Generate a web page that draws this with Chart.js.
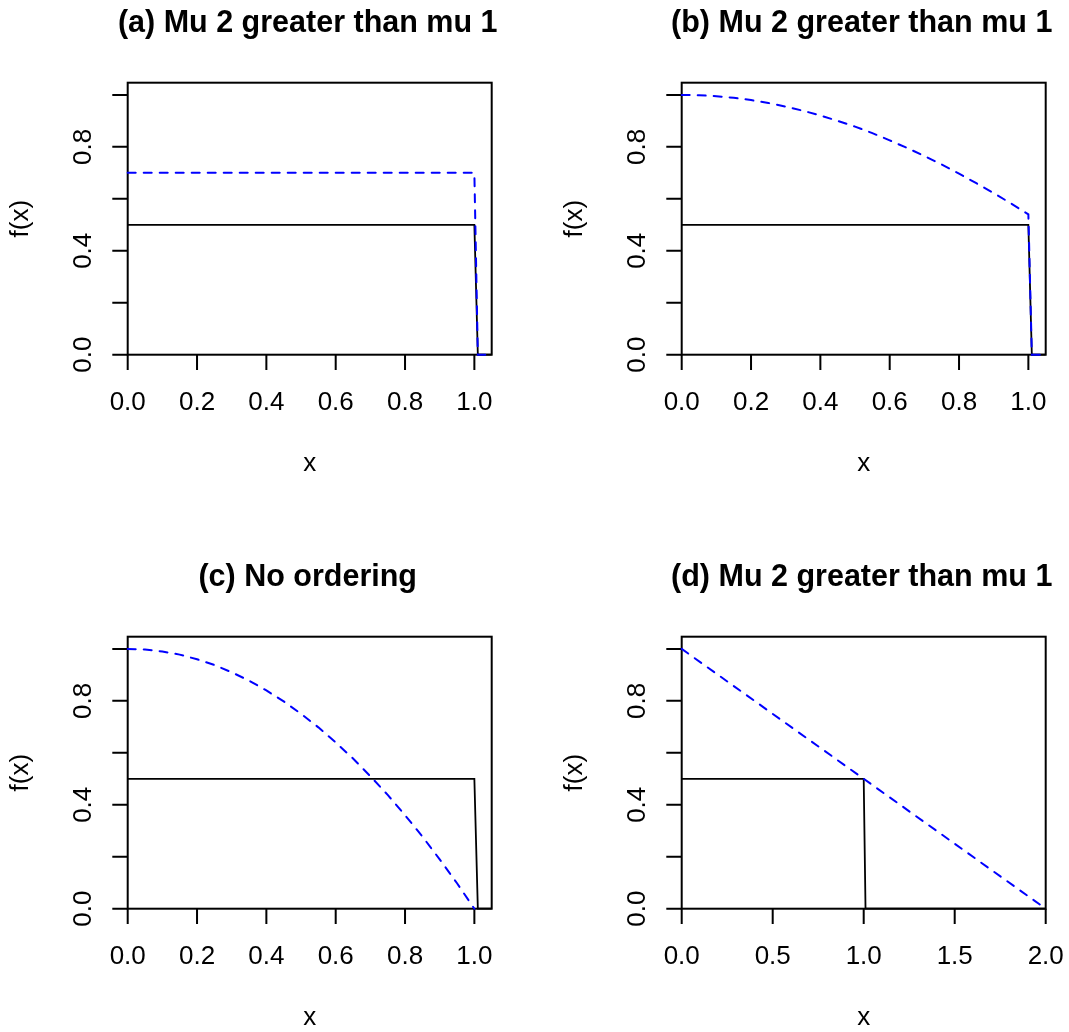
<!DOCTYPE html>
<html>
<head>
<meta charset="utf-8">
<script src="https://cdn.jsdelivr.net/npm/chart.js@4.4.1/dist/chart.umd.min.js"></script>
<style>
  html, body { margin: 0; padding: 0; background: #fff; overflow: hidden; }
  #wrap { position: relative; width: 1069px; height: 1032px; }
  #wrap canvas { position: absolute; }
</style>
</head>
<body>
<div id="wrap">
  <canvas id="pa" width="515" height="478" style="left:0;top:0"></canvas>
  <canvas id="pb" width="515" height="478" style="left:554px;top:0"></canvas>
  <canvas id="pc" width="515" height="478" style="left:0;top:554px"></canvas>
  <canvas id="pd" width="515" height="478" style="left:554px;top:554px"></canvas>
</div>
<script>
// step densities (uniform on [0,1]) share this grid
var xStep = [0, 1.0, 1.01, 1.05];
var fUniform = [0.5, 0.5, 0, 0];
var fFlatA = [0.7, 0.7, 0, 0];

// curved second densities, read every 0.05
var xCurveB = [0, 0.05, 0.1, 0.15, 0.2, 0.25, 0.3, 0.35, 0.4, 0.45, 0.5,
               0.55, 0.6, 0.65, 0.7, 0.75, 0.8, 0.85, 0.9, 0.95, 1.0, 1.01, 1.05];
var fCurveB = [1.0, 0.999, 0.995, 0.989, 0.98, 0.969, 0.955, 0.939, 0.921, 0.9, 0.878,
               0.853, 0.825, 0.796, 0.765, 0.732, 0.697, 0.66, 0.622, 0.582, 0.54, 0, 0];
var xCurveC = [0, 0.05, 0.1, 0.15, 0.2, 0.25, 0.3, 0.35, 0.4, 0.45, 0.5,
               0.55, 0.6, 0.65, 0.7, 0.75, 0.8, 0.85, 0.9, 0.95, 1.0];
var fCurveC = [1.0, 0.998, 0.99, 0.978, 0.96, 0.938, 0.91, 0.878, 0.84, 0.798, 0.75,
               0.698, 0.64, 0.578, 0.51, 0.438, 0.36, 0.278, 0.19, 0.098, 0];

// panel (d) runs out to 2
var xStepD = [0, 1.0, 1.01, 2.0];
var xLineD = [0, 2];
var fLineD = [1, 0];

var xTicks1 = [0, 0.2, 0.4, 0.6, 0.8, 1.0];
var xTickLabels1 = ['0.0', '0.2', '0.4', '0.6', '0.8', '1.0'];
var xTicks2 = [0, 0.5, 1.0, 1.5, 2.0];
var xTickLabels2 = ['0.0', '0.5', '1.0', '1.5', '2.0'];
var yTicks = [0, 0.2, 0.4, 0.6, 0.8, 1.0];
var yTickLabels = ['0.0', '', '0.4', '', '0.8', ''];

var titles = ['(a) Mu 2 greater than mu 1', '(b) Mu 2 greater than mu 1',
              '(c) No ordering', '(d) Mu 2 greater than mu 1'];

var FONT = '"Liberation Sans", Arial, Helvetica, sans-serif';

function pts(xs, ys) {
    return xs.map(function (x, i) { return { x: x, y: ys[i] }; });
}

// base-graphics style frame: box, outside ticks, rotated y labels
function frame(p) {
    return {
        id: 'frame',
        beforeDatasetsDraw: function (chart) {
            var ctx = chart.ctx, a = chart.chartArea;
            var xs = chart.scales.x, ys = chart.scales.y;
            var cx = (a.left + a.right) / 2, cy = (a.top + a.bottom) / 2;
            ctx.save();
            ctx.strokeStyle = '#000';
            ctx.lineWidth = 2;
            ctx.strokeRect(a.left, a.top, a.right - a.left, a.bottom - a.top);
            ctx.beginPath();
            p.xTicks.forEach(function (v) {
                var px = xs.getPixelForValue(v);
                ctx.moveTo(px, a.bottom);
                ctx.lineTo(px, a.bottom + 15.4);
            });
            yTicks.forEach(function (v) {
                var py = ys.getPixelForValue(v);
                ctx.moveTo(a.left, py);
                ctx.lineTo(a.left - 15.4, py);
            });
            ctx.stroke();

            ctx.fillStyle = '#000';
            ctx.font = '26px ' + FONT;
            ctx.textAlign = 'center';
            ctx.textBaseline = 'alphabetic';
            p.xLabels.forEach(function (t, i) {
                ctx.fillText(t, xs.getPixelForValue(p.xTicks[i]), a.bottom + 55.5);
            });
            yTickLabels.forEach(function (t, i) {
                if (!t) return;
                ctx.save();
                ctx.translate(a.left - 37.2, ys.getPixelForValue(yTicks[i]));
                ctx.rotate(-Math.PI / 2);
                ctx.fillText(t, 0, 0);
                ctx.restore();
            });
            ctx.fillText('x', cx, a.bottom + 116.5);
            ctx.save();
            ctx.translate(a.left - 99.5, cy);
            ctx.rotate(-Math.PI / 2);
            ctx.fillText('f(x)', 0, 0);
            ctx.restore();

            ctx.font = 'bold 30.5px ' + FONT;
            ctx.fillText(p.title, cx - 2, a.top - 51);
            ctx.restore();
        }
    };
}

function panel(id, p) {
    new Chart(document.getElementById(id), {
        type: 'line',
        data: {
            datasets: [{
                data: p.solid,
                borderColor: '#000000',
                borderWidth: 1.8,
                pointRadius: 0,
                clip: false,
                order: 2
            }, {
                data: p.dashed,
                borderColor: '#0000ff',
                borderWidth: 2,
                borderDash: [8, 8],
                borderCapStyle: 'round',
                pointRadius: 0,
                clip: false,
                order: 1
            }]
        },
        options: {
            responsive: false,
            animation: false,
            events: [],
            layout: { padding: { left: 127.7, top: 82.7, right: 23.3, bottom: 123.3 } },
            scales: {
                x: { type: 'linear', min: 0, max: p.xMax, display: false },
                y: { type: 'linear', min: 0, max: 1.047, display: false }
            },
            plugins: { legend: { display: false }, tooltip: { enabled: false } }
        },
        plugins: [frame(p)]
    });
}

panel('pa', { title: titles[0], xMax: 1.05, xTicks: xTicks1, xLabels: xTickLabels1,
              solid: pts(xStep, fUniform), dashed: pts(xStep, fFlatA) });
panel('pb', { title: titles[1], xMax: 1.05, xTicks: xTicks1, xLabels: xTickLabels1,
              solid: pts(xStep, fUniform), dashed: pts(xCurveB, fCurveB) });
panel('pc', { title: titles[2], xMax: 1.05, xTicks: xTicks1, xLabels: xTickLabels1,
              solid: pts(xStep, fUniform), dashed: pts(xCurveC, fCurveC) });
panel('pd', { title: titles[3], xMax: 2, xTicks: xTicks2, xLabels: xTickLabels2,
              solid: pts(xStepD, fUniform), dashed: pts(xLineD, fLineD) });
</script>
</body>
</html>
